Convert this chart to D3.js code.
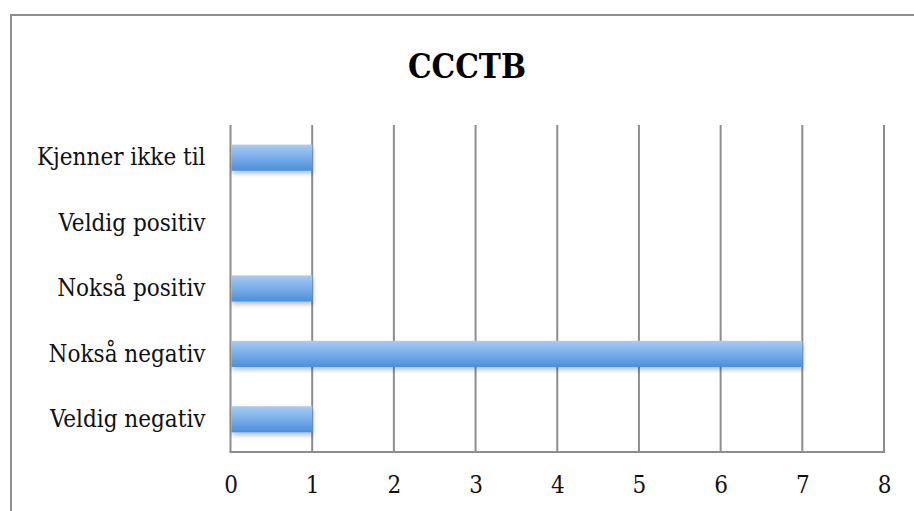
<!DOCTYPE html>
<html>
<head>
<meta charset="utf-8">
<script src="https://cdn.jsdelivr.net/npm/d3@7"></script>
<style>
  html, body { margin: 0; padding: 0; background: #fff; }
  svg { display: block; }
  .axis text { font-family: "DejaVu Serif Condensed", "DejaVu Serif", serif; font-size: 24px; fill: #111; }
</style>
</head>
<body>
<script>
const W = 914, H = 511;

// data
const categories = ["Veldig negativ", "Nokså negativ", "Nokså positiv", "Veldig positiv", "Kjenner ikke til"];
const counts = [1, 7, 1, 0, 1];
const xTicks = [0, 1, 2, 3, 4, 5, 6, 7, 8];
const title = "CCCTB";

const GRID = "#8d8d8d";
const margin = {left: 230.5, right: 30, top: 125, bottom: 59};

const svg = d3.select("body").append("svg")
  .attr("width", W)
  .attr("height", H);

const defs = svg.append("defs");
const grad = defs.append("linearGradient")
  .attr("id", "barGrad")
  .attr("x1", 0).attr("y1", 0).attr("x2", 0).attr("y2", 1);
grad.append("stop").attr("offset", "0%").attr("stop-color", "#a6cbf6");
grad.append("stop").attr("offset", "100%").attr("stop-color", "#4a8fd9");

const shadow = defs.append("filter")
  .attr("id", "shadow")
  .attr("x", "-5%").attr("y", "-30%").attr("width", "115%").attr("height", "180%");
shadow.append("feDropShadow")
  .attr("dx", 1).attr("dy", 3).attr("stdDeviation", 2)
  .attr("flood-color", "#000").attr("flood-opacity", 0.25);

// outer chart frame (clipped on right/bottom like the reference)
svg.append("path")
  .attr("d", `M11,${H} V15 H${W}`)
  .attr("fill", "none")
  .attr("stroke", GRID)
  .attr("stroke-width", 2);

// title
svg.append("text")
  .attr("x", 467)
  .attr("y", 78)
  .attr("text-anchor", "middle")
  .style("font-family", "'DejaVu Serif Condensed', 'DejaVu Serif', serif")
  .style("font-weight", "bold")
  .style("font-size", "33px")
  .text(title);

const x = d3.scaleLinear()
  .domain([0, 8])
  .range([margin.left, W - margin.right]);

const y = d3.scaleBand()
  .domain(categories.slice().reverse())
  .range([margin.top, H - margin.bottom])
  .paddingInner(0.6)
  .paddingOuter(0.3);

// vertical gridlines
svg.append("g")
  .selectAll("line")
  .data(xTicks)
  .join("line")
  .attr("x1", d => x(d)).attr("x2", d => x(d))
  .attr("y1", margin.top).attr("y2", H - margin.bottom)
  .attr("stroke", GRID)
  .attr("stroke-width", 2);

// bottom axis line
svg.append("line")
  .attr("x1", x(0) - 1).attr("x2", x(8) + 1)
  .attr("y1", H - margin.bottom).attr("y2", H - margin.bottom)
  .attr("stroke", GRID)
  .attr("stroke-width", 2);

// bars
svg.append("g")
  .selectAll("rect")
  .data(categories)
  .join("rect")
  .attr("x", x(0) + 1)
  .attr("y", d => y(d))
  .attr("width", (d, i) => Math.max(0, x(counts[i]) - x(0) - 1))
  .attr("height", y.bandwidth())
  .attr("fill", "url(#barGrad)")
  .attr("filter", "url(#shadow)");

// x axis labels
const ax = d3.axisBottom(x)
  .tickValues(xTicks)
  .tickSize(0)
  .tickPadding(24);
const gx = svg.append("g")
  .attr("class", "axis")
  .attr("transform", `translate(0, ${H - margin.bottom})`)
  .call(ax);
gx.select(".domain").remove();

// y axis labels
const ay = d3.axisLeft(y)
  .tickSize(0)
  .tickPadding(25);
const gy = svg.append("g")
  .attr("class", "axis")
  .attr("transform", `translate(${margin.left}, 0)`)
  .call(ay);
gy.select(".domain").remove();
</script>
</body>
</html>
